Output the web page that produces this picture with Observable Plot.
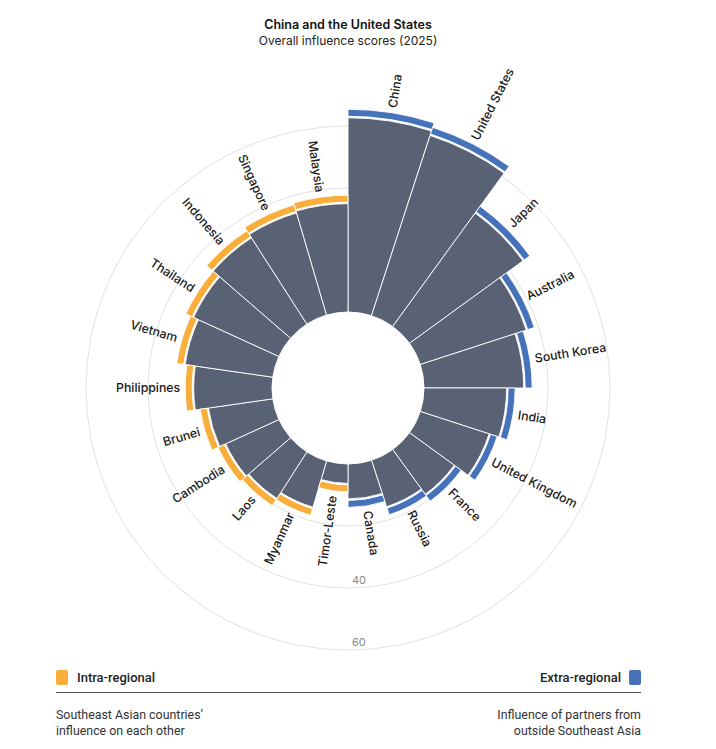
<!DOCTYPE html>
<html>
<head>
<meta charset="utf-8">
<script src="https://cdn.jsdelivr.net/npm/d3@7"></script>
<script src="https://cdn.jsdelivr.net/npm/@observablehq/plot@0.6"></script>
<style>
  body { margin: 0; background: #fff; font-family: Inter, "Noto Sans", sans-serif; }
  #wrap { position: relative; width: 696px; height: 749px; }
  .title { position: absolute; left: 0; width: 696px; top: 17px; text-align: center; font-weight: 600; font-size: 12.5px; line-height: 16px; color: #111; }
  .subtitle { position: absolute; left: 0; width: 696px; top: 33px; text-align: center; font-size: 12px; line-height: 16px; color: #222; }
  #chart { position: absolute; left: 0; top: 49px; }
  .leg { position: absolute; top: 669px; height: 17px; display: flex; align-items: center; font-family: Roboto, sans-serif; font-weight: 500; font-size: 13px; color: #222; }
  .sw { width: 12px; height: 15px; border-radius: 2px; display: inline-block; }
  .rule { position: absolute; left: 56px; width: 585px; top: 692px; height: 1px; background: #555; }
  .note { position: absolute; top: 707px; font-family: Roboto, sans-serif; font-size: 12.4px; line-height: 15.5px; color: #333; }
</style>
</head>
<body>
<div id="wrap">
  <div class="title">China and the United States</div>
  <div class="subtitle">Overall influence scores (2025)</div>
  <div id="chart"></div>
  <div class="leg" style="left:56px;"><span class="sw" id="swIntra"></span><span style="margin-left:9px;" id="lgIntra"></span></div>
  <div class="leg" style="right:55px;"><span style="margin-right:8px;" id="lgExtra"></span><span class="sw" id="swExtra"></span></div>
  <div class="rule"></div>
  <div class="note" style="left:56px; text-align:left;" id="noteIntra"></div>
  <div class="note" style="right:55px; text-align:right;" id="noteExtra"></div>
</div>
<script>
// ---- data ----
const extraCountries = ["China", "United States", "Japan", "Australia", "South Korea", "India", "United Kingdom", "France", "Russia", "Canada"];
const extraScores = [65.4, 63.9, 48.0, 38.7, 34.9, 29.4, 26.1, 20.6, 18.5, 14.0];
const intraCountries = ["Timor-Leste", "Myanmar", "Laos", "Cambodia", "Brunei", "Philippines", "Vietnam", "Thailand", "Indonesia", "Singapore", "Malaysia"];
const intraScores = [9.0, 18.3, 20.6, 21.6, 23.7, 28.0, 31.3, 33.0, 35.8, 37.1, 37.7];
const gridValues = [20, 40, 60];
const gridLabels = [40, 60];
const groupKeys = ["intra", "extra"];
const groupNames = ["Intra-regional", "Extra-regional"];
const groupNotes = ["Southeast Asian countries’<br>influence on each other", "Influence of partners from<br>outside Southeast Asia"];
const groupColors = ["#F9AE3B", "#4672BA"];
const barColor = "#596174";

// ---- layout table (angles in degrees, clockwise from top) ----
const data = [];
extraCountries.forEach((name, i) => {
  const step = 180 / extraCountries.length;
  data.push({name, value: extraScores[i], group: "extra", a1: i * step, a2: (i + 1) * step, amid: (i + 0.5) * step});
});
intraCountries.forEach((name, j) => {
  const step = 180 / intraCountries.length;
  data.push({name, value: intraScores[j], group: "intra", a1: 180 + j * step, a2: 180 + (j + 1) * step, amid: 180 + (j + 0.5) * step});
});

const W = 696, H = 606, CX = 348, CY = 339;
const CAP = 7, GAP = 1.5;

function grp() { return d3.create("svg:g").attr("transform", `translate(${CX},${CY})`); }

function circlesRender(index, scales, values) {
  const g = grp();
  for (const i of index) g.append("circle").attr("r", values.y[i]).attr("fill", "none").attr("stroke", "#e2e2e2").attr("stroke-width", 1);
  return g.node();
}
function barsRender(index, scales, values) {
  const g = grp(); const arc = d3.arc();
  for (const i of index) {
    g.append("path")
      .attr("d", arc({innerRadius: values.y1[i], outerRadius: values.y2[i] - CAP - GAP, startAngle: values.x1[i], endAngle: values.x2[i]}))
      .attr("fill", barColor).attr("stroke", "#fff").attr("stroke-width", 0.9);
  }
  return g.node();
}
function capsRender(index, scales, values) {
  const g = grp(); const arc = d3.arc();
  for (const i of index) {
    g.append("path")
      .attr("d", arc({innerRadius: values.y2[i] - CAP, outerRadius: values.y2[i], startAngle: values.x1[i], endAngle: values.x2[i]}))
      .attr("fill", values.fill[i]).attr("stroke", "#fff").attr("stroke-width", 0.9);
  }
  return g.node();
}
function labelsRender(index, scales, values) {
  const g = grp();
  for (const i of index) {
    const a = values.x[i], r = values.y[i] + 5;
    const deg = a * 180 / Math.PI;
    const px = r * Math.sin(a), py = -r * Math.cos(a);
    const right = deg < 180;
    g.append("text")
      .attr("transform", `translate(${px},${py}) rotate(${right ? deg - 90 : deg - 270})`)
      .attr("text-anchor", right ? "start" : "end")
      .attr("dy", "0.35em")
      .attr("font-family", "Inter, sans-serif").attr("font-size", 12.3).attr("font-weight", 500)
      .attr("fill", "#1a1a1a")
      .text(values.text[i]);
  }
  return g.node();
}
function tickRender(index, scales, values) {
  const g = grp();
  for (const i of index) {
    g.append("text").attr("x", 4).attr("y", values.y[i] - 8).attr("dy", "0.35em")
      .attr("text-anchor", "start").attr("font-family", "Inter, sans-serif").attr("font-size", 11).attr("fill", "#8a8a8a")
      .text(values.text[i]);
  }
  return g.node();
}

const chart = Plot.plot({
  width: W, height: H, margin: 0,
  style: {background: "transparent", overflow: "visible"},
  x: {type: "linear", domain: [0, 360], range: [0, 2 * Math.PI], axis: null},
  y: {type: "linear", domain: [0, 60], range: [76, 262], axis: null},
  color: {domain: groupKeys, range: groupColors},
  marks: [
    Plot.ruleY(gridValues, {y: d => d, render: circlesRender}),
    Plot.rect(data, {x1: "a1", x2: "a2", y1: 0, y2: "value", render: barsRender}),
    Plot.rect(data, {x1: "a1", x2: "a2", y1: 0, y2: "value", fill: "group", render: capsRender}),
    Plot.text(data, {x: "amid", y: "value", text: "name", render: labelsRender}),
    Plot.text(gridLabels, {x: 180, y: d => d, text: d => String(d), render: tickRender})
  ]
});
document.getElementById("chart").appendChild(chart);

document.getElementById("swIntra").style.background = groupColors[0];
document.getElementById("swExtra").style.background = groupColors[1];
document.getElementById("lgIntra").textContent = groupNames[0];
document.getElementById("lgExtra").textContent = groupNames[1];
document.getElementById("noteIntra").innerHTML = groupNotes[0];
document.getElementById("noteExtra").innerHTML = groupNotes[1];
</script>
</body>
</html>
